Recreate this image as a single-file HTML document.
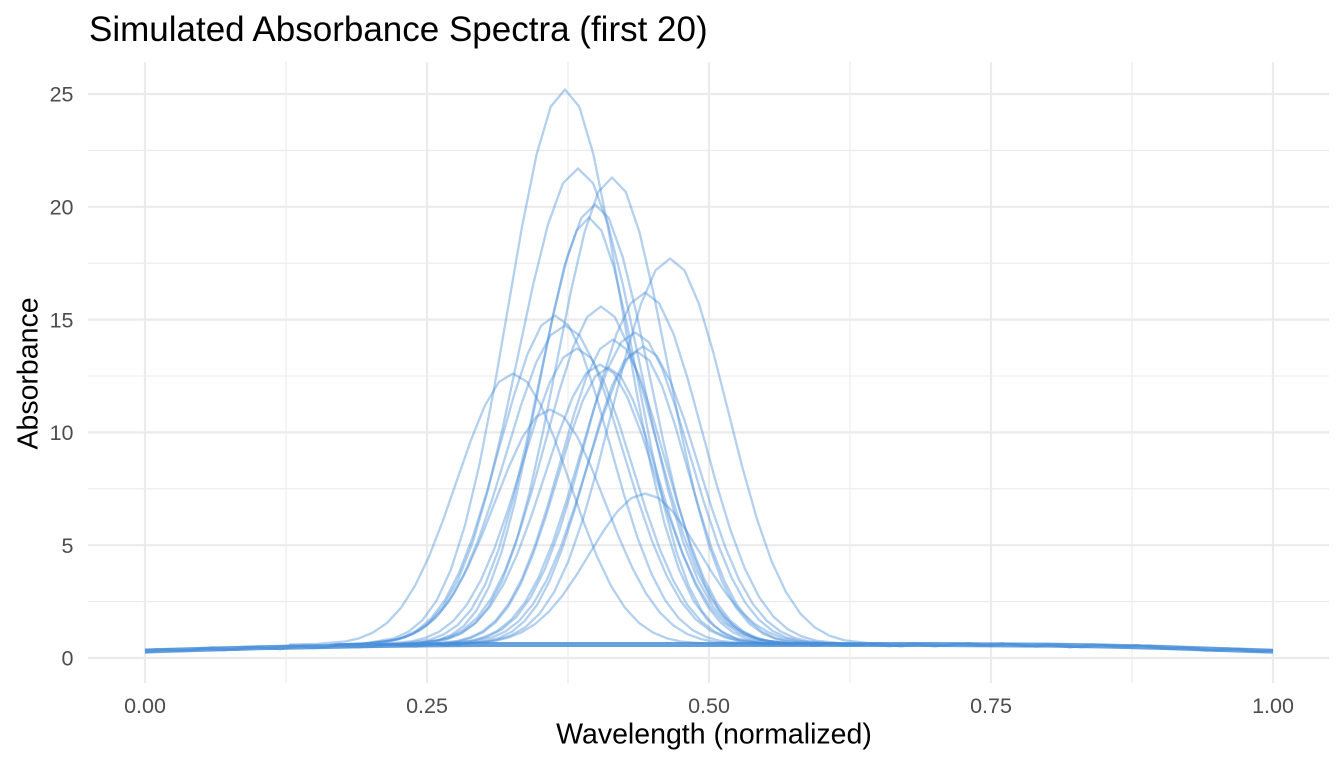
<!DOCTYPE html>
<html>
<head>
<meta charset="utf-8">
<style>
  html,body{margin:0;padding:0;background:#fff;}
  svg{display:block;}
  text{font-family:"Liberation Sans",Arial,Helvetica,sans-serif;}
  .maj{stroke:#ebebeb;stroke-width:2.2;fill:none;}
  .min{stroke:#ebebeb;stroke-width:1.1;fill:none;}
  .tk{font-size:21.5px;fill:#4d4d4d;}
  .c{fill:none;stroke:#4a90d9;stroke-opacity:0.42;stroke-width:2.3;stroke-linejoin:round;vector-effect:non-scaling-stroke;}
  .j{fill:none;stroke:#4a90d9;stroke-opacity:0.6;stroke-width:2.2;stroke-linejoin:round;}
</style>
</head>
<body>
<svg width="1344" height="768" viewBox="0 0 1344 768" xmlns="http://www.w3.org/2000/svg">
  <rect width="1344" height="768" fill="#fff"/>
  <!-- minor grid -->
  <g class="min">
    <line x1="286" y1="62" x2="286" y2="683"/>
    <line x1="568" y1="62" x2="568" y2="683"/>
    <line x1="850" y1="62" x2="850" y2="683"/>
    <line x1="1132" y1="62" x2="1132" y2="683"/>
    <line x1="88" y1="601.6" x2="1329" y2="601.6"/>
    <line x1="88" y1="488.8" x2="1329" y2="488.8"/>
    <line x1="88" y1="376" x2="1329" y2="376"/>
    <line x1="88" y1="263.2" x2="1329" y2="263.2"/>
    <line x1="88" y1="150.4" x2="1329" y2="150.4"/>
  </g>
  <!-- major grid -->
  <g class="maj">
    <line x1="145" y1="62" x2="145" y2="683"/>
    <line x1="427" y1="62" x2="427" y2="683"/>
    <line x1="709" y1="62" x2="709" y2="683"/>
    <line x1="991" y1="62" x2="991" y2="683"/>
    <line x1="1273" y1="62" x2="1273" y2="683"/>
    <line x1="88" y1="658" x2="1329" y2="658"/>
    <line x1="88" y1="545.2" x2="1329" y2="545.2"/>
    <line x1="88" y1="432.4" x2="1329" y2="432.4"/>
    <line x1="88" y1="319.6" x2="1329" y2="319.6"/>
    <line x1="88" y1="206.8" x2="1329" y2="206.8"/>
    <line x1="88" y1="94" x2="1329" y2="94"/>
  </g>

  <!-- baseline band -->
  <path d="M145,651 L201.4,649.4 L257.8,647.8 L314.2,646.7 L370.6,645.6 L427,644.9 L483.4,644.5 L934.6,644.5 L991,644.9 L1047.4,645.1 L1103.8,646 L1160.2,647.4 L1216.6,649.4 L1273,651.2" fill="none" stroke="#4a90d9" stroke-opacity="0.85" stroke-width="5" stroke-linejoin="round"/>
  <path class="j" d="M145,652.8 L167.6,649.2 L190.1,650.5 L212.7,647.3 L235.2,649.8 L257.8,647.2 L280.4,649.3 L302.9,645.5 L325.5,646.9 L348,644.3 L370.6,646.8 L393.2,644.4 L415.7,646.6 L438.3,643.3 L460.8,645.3"/>
  <path class="j" d="M821.8,642.7 L844.4,645.7 L866.9,644.1 L889.5,646.3 L912,643.5 L934.6,646.4 L957.2,643.5 L979.7,645.7 L1002.3,643.2 L1024.8,646.4 L1047.4,644.5 L1070,647.4 L1092.5,644.4 L1115.1,646.7 L1137.6,645.1 L1160.2,648.6 L1182.8,647.3 L1205.3,650.6 L1227.9,648.5 L1250.4,651.2 L1273,650.2"/>
  <path class="j" d="M145,650.5 L156.3,649.2 L178.8,651 L201.4,648.7 L224,650.3 L246.5,646.9 L269.1,648.1 L291.6,645.3 L314.2,648 L336.8,645.8 L359.3,647.3 L381.9,644.4 L404.4,645.9 L427,643.3 L449.6,645.7"/>
  <path class="j" d="M810.5,645.9 L833.1,643 L855.7,645.2 L878.2,643.6 L900.8,646.4 L923.3,644.1 L945.9,645.8 L968.5,643.1 L991,645.8 L1013.6,643.7 L1036.1,646.6 L1058.7,644.5 L1081.3,647.3 L1103.8,644.9 L1126.4,646.9 L1148.9,645.5 L1171.5,648.8 L1194.1,648 L1216.6,650.8 L1239.2,648.9 L1261.7,651.6 L1273,650.3"/>

  <!-- gaussian peaks -->
  <g>
    <path class="c" transform="translate(565,644.5) scale(57,-555)" d="M-4,0 L-3.5,0.0022 L-3,0.0111 L-2.75,0.0228 L-2.5,0.0439 L-2.25,0.0796 L-2,0.1353 L-1.75,0.2163 L-1.5,0.3247 L-1.25,0.4578 L-1,0.6065 L-0.75,0.7548 L-0.5,0.8825 L-0.25,0.9692 L0,1 L0.25,0.9692 L0.5,0.8825 L0.75,0.7548 L1,0.6065 L1.25,0.4578 L1.5,0.3247 L1.75,0.2163 L2,0.1353 L2.25,0.0796 L2.5,0.0439 L2.75,0.0228 L3,0.0111 L3.5,0.0022 L4,0"/>
    <path class="c" transform="translate(578,644.5) scale(60,-476)" d="M-4,0 L-3.5,0.0022 L-3,0.0111 L-2.75,0.0228 L-2.5,0.0439 L-2.25,0.0796 L-2,0.1353 L-1.75,0.2163 L-1.5,0.3247 L-1.25,0.4578 L-1,0.6065 L-0.75,0.7548 L-0.5,0.8825 L-0.25,0.9692 L0,1 L0.25,0.9692 L0.5,0.8825 L0.75,0.7548 L1,0.6065 L1.25,0.4578 L1.5,0.3247 L1.75,0.2163 L2,0.1353 L2.25,0.0796 L2.5,0.0439 L2.75,0.0228 L3,0.0111 L3.5,0.0022 L4,0"/>
    <path class="c" transform="translate(612,644.5) scale(55,-467)" d="M-4,0 L-3.5,0.0022 L-3,0.0111 L-2.75,0.0228 L-2.5,0.0439 L-2.25,0.0796 L-2,0.1353 L-1.75,0.2163 L-1.5,0.3247 L-1.25,0.4578 L-1,0.6065 L-0.75,0.7548 L-0.5,0.8825 L-0.25,0.9692 L0,1 L0.25,0.9692 L0.5,0.8825 L0.75,0.7548 L1,0.6065 L1.25,0.4578 L1.5,0.3247 L1.75,0.2163 L2,0.1353 L2.25,0.0796 L2.5,0.0439 L2.75,0.0228 L3,0.0111 L3.5,0.0022 L4,0"/>
    <path class="c" transform="translate(595,644.5) scale(55,-440)" d="M-4,0 L-3.5,0.0022 L-3,0.0111 L-2.75,0.0228 L-2.5,0.0439 L-2.25,0.0796 L-2,0.1353 L-1.75,0.2163 L-1.5,0.3247 L-1.25,0.4578 L-1,0.6065 L-0.75,0.7548 L-0.5,0.8825 L-0.25,0.9692 L0,1 L0.25,0.9692 L0.5,0.8825 L0.75,0.7548 L1,0.6065 L1.25,0.4578 L1.5,0.3247 L1.75,0.2163 L2,0.1353 L2.25,0.0796 L2.5,0.0439 L2.75,0.0228 L3,0.0111 L3.5,0.0022 L4,0"/>
    <path class="c" transform="translate(589,644.5) scale(50,-427)" d="M-4,0 L-3.5,0.0022 L-3,0.0111 L-2.75,0.0228 L-2.5,0.0439 L-2.25,0.0796 L-2,0.1353 L-1.75,0.2163 L-1.5,0.3247 L-1.25,0.4578 L-1,0.6065 L-0.75,0.7548 L-0.5,0.8825 L-0.25,0.9692 L0,1 L0.25,0.9692 L0.5,0.8825 L0.75,0.7548 L1,0.6065 L1.25,0.4578 L1.5,0.3247 L1.75,0.2163 L2,0.1353 L2.25,0.0796 L2.5,0.0439 L2.75,0.0228 L3,0.0111 L3.5,0.0022 L4,0"/>
    <path class="c" transform="translate(670,644.5) scale(58,-386)" d="M-4,0 L-3.5,0.0022 L-3,0.0111 L-2.75,0.0228 L-2.5,0.0439 L-2.25,0.0796 L-2,0.1353 L-1.75,0.2163 L-1.5,0.3247 L-1.25,0.4578 L-1,0.6065 L-0.75,0.7548 L-0.5,0.8825 L-0.25,0.9692 L0,1 L0.25,0.9692 L0.5,0.8825 L0.75,0.7548 L1,0.6065 L1.25,0.4578 L1.5,0.3247 L1.75,0.2163 L2,0.1353 L2.25,0.0796 L2.5,0.0439 L2.75,0.0228 L3,0.0111 L3.5,0.0022 L4,0"/>
    <path class="c" transform="translate(645,644.5) scale(57,-352)" d="M-4,0 L-3.5,0.0022 L-3,0.0111 L-2.75,0.0228 L-2.5,0.0439 L-2.25,0.0796 L-2,0.1353 L-1.75,0.2163 L-1.5,0.3247 L-1.25,0.4578 L-1,0.6065 L-0.75,0.7548 L-0.5,0.8825 L-0.25,0.9692 L0,1 L0.25,0.9692 L0.5,0.8825 L0.75,0.7548 L1,0.6065 L1.25,0.4578 L1.5,0.3247 L1.75,0.2163 L2,0.1353 L2.25,0.0796 L2.5,0.0439 L2.75,0.0228 L3,0.0111 L3.5,0.0022 L4,0"/>
    <path class="c" transform="translate(601,644.5) scale(55,-338)" d="M-4,0 L-3.5,0.0022 L-3,0.0111 L-2.75,0.0228 L-2.5,0.0439 L-2.25,0.0796 L-2,0.1353 L-1.75,0.2163 L-1.5,0.3247 L-1.25,0.4578 L-1,0.6065 L-0.75,0.7548 L-0.5,0.8825 L-0.25,0.9692 L0,1 L0.25,0.9692 L0.5,0.8825 L0.75,0.7548 L1,0.6065 L1.25,0.4578 L1.5,0.3247 L1.75,0.2163 L2,0.1353 L2.25,0.0796 L2.5,0.0439 L2.75,0.0228 L3,0.0111 L3.5,0.0022 L4,0"/>
    <path class="c" transform="translate(555,644.5) scale(55,-329)" d="M-4,0 L-3.5,0.0022 L-3,0.0111 L-2.75,0.0228 L-2.5,0.0439 L-2.25,0.0796 L-2,0.1353 L-1.75,0.2163 L-1.5,0.3247 L-1.25,0.4578 L-1,0.6065 L-0.75,0.7548 L-0.5,0.8825 L-0.25,0.9692 L0,1 L0.25,0.9692 L0.5,0.8825 L0.75,0.7548 L1,0.6065 L1.25,0.4578 L1.5,0.3247 L1.75,0.2163 L2,0.1353 L2.25,0.0796 L2.5,0.0439 L2.75,0.0228 L3,0.0111 L3.5,0.0022 L4,0"/>
    <path class="c" transform="translate(565,644.5) scale(58,-319)" d="M-4,0 L-3.5,0.0022 L-3,0.0111 L-2.75,0.0228 L-2.5,0.0439 L-2.25,0.0796 L-2,0.1353 L-1.75,0.2163 L-1.5,0.3247 L-1.25,0.4578 L-1,0.6065 L-0.75,0.7548 L-0.5,0.8825 L-0.25,0.9692 L0,1 L0.25,0.9692 L0.5,0.8825 L0.75,0.7548 L1,0.6065 L1.25,0.4578 L1.5,0.3247 L1.75,0.2163 L2,0.1353 L2.25,0.0796 L2.5,0.0439 L2.75,0.0228 L3,0.0111 L3.5,0.0022 L4,0"/>
    <path class="c" transform="translate(635,644.5) scale(55,-312)" d="M-4,0 L-3.5,0.0022 L-3,0.0111 L-2.75,0.0228 L-2.5,0.0439 L-2.25,0.0796 L-2,0.1353 L-1.75,0.2163 L-1.5,0.3247 L-1.25,0.4578 L-1,0.6065 L-0.75,0.7548 L-0.5,0.8825 L-0.25,0.9692 L0,1 L0.25,0.9692 L0.5,0.8825 L0.75,0.7548 L1,0.6065 L1.25,0.4578 L1.5,0.3247 L1.75,0.2163 L2,0.1353 L2.25,0.0796 L2.5,0.0439 L2.75,0.0228 L3,0.0111 L3.5,0.0022 L4,0"/>
    <path class="c" transform="translate(577,644.5) scale(55,-296)" d="M-4,0 L-3.5,0.0022 L-3,0.0111 L-2.75,0.0228 L-2.5,0.0439 L-2.25,0.0796 L-2,0.1353 L-1.75,0.2163 L-1.5,0.3247 L-1.25,0.4578 L-1,0.6065 L-0.75,0.7548 L-0.5,0.8825 L-0.25,0.9692 L0,1 L0.25,0.9692 L0.5,0.8825 L0.75,0.7548 L1,0.6065 L1.25,0.4578 L1.5,0.3247 L1.75,0.2163 L2,0.1353 L2.25,0.0796 L2.5,0.0439 L2.75,0.0228 L3,0.0111 L3.5,0.0022 L4,0"/>
    <path class="c" transform="translate(613,644.5) scale(52,-305)" d="M-4,0 L-3.5,0.0022 L-3,0.0111 L-2.75,0.0228 L-2.5,0.0439 L-2.25,0.0796 L-2,0.1353 L-1.75,0.2163 L-1.5,0.3247 L-1.25,0.4578 L-1,0.6065 L-0.75,0.7548 L-0.5,0.8825 L-0.25,0.9692 L0,1 L0.25,0.9692 L0.5,0.8825 L0.75,0.7548 L1,0.6065 L1.25,0.4578 L1.5,0.3247 L1.75,0.2163 L2,0.1353 L2.25,0.0796 L2.5,0.0439 L2.75,0.0228 L3,0.0111 L3.5,0.0022 L4,0"/>
    <path class="c" transform="translate(643,644.5) scale(55,-298)" d="M-4,0 L-3.5,0.0022 L-3,0.0111 L-2.75,0.0228 L-2.5,0.0439 L-2.25,0.0796 L-2,0.1353 L-1.75,0.2163 L-1.5,0.3247 L-1.25,0.4578 L-1,0.6065 L-0.75,0.7548 L-0.5,0.8825 L-0.25,0.9692 L0,1 L0.25,0.9692 L0.5,0.8825 L0.75,0.7548 L1,0.6065 L1.25,0.4578 L1.5,0.3247 L1.75,0.2163 L2,0.1353 L2.25,0.0796 L2.5,0.0439 L2.75,0.0228 L3,0.0111 L3.5,0.0022 L4,0"/>
    <path class="c" transform="translate(637,644.5) scale(50,-293)" d="M-4,0 L-3.5,0.0022 L-3,0.0111 L-2.75,0.0228 L-2.5,0.0439 L-2.25,0.0796 L-2,0.1353 L-1.75,0.2163 L-1.5,0.3247 L-1.25,0.4578 L-1,0.6065 L-0.75,0.7548 L-0.5,0.8825 L-0.25,0.9692 L0,1 L0.25,0.9692 L0.5,0.8825 L0.75,0.7548 L1,0.6065 L1.25,0.4578 L1.5,0.3247 L1.75,0.2163 L2,0.1353 L2.25,0.0796 L2.5,0.0439 L2.75,0.0228 L3,0.0111 L3.5,0.0022 L4,0"/>
    <path class="c" transform="translate(600,644.5) scale(55,-280)" d="M-4,0 L-3.5,0.0022 L-3,0.0111 L-2.75,0.0228 L-2.5,0.0439 L-2.25,0.0796 L-2,0.1353 L-1.75,0.2163 L-1.5,0.3247 L-1.25,0.4578 L-1,0.6065 L-0.75,0.7548 L-0.5,0.8825 L-0.25,0.9692 L0,1 L0.25,0.9692 L0.5,0.8825 L0.75,0.7548 L1,0.6065 L1.25,0.4578 L1.5,0.3247 L1.75,0.2163 L2,0.1353 L2.25,0.0796 L2.5,0.0439 L2.75,0.0228 L3,0.0111 L3.5,0.0022 L4,0"/>
    <path class="c" transform="translate(608,644.5) scale(50,-277)" d="M-4,0 L-3.5,0.0022 L-3,0.0111 L-2.75,0.0228 L-2.5,0.0439 L-2.25,0.0796 L-2,0.1353 L-1.75,0.2163 L-1.5,0.3247 L-1.25,0.4578 L-1,0.6065 L-0.75,0.7548 L-0.5,0.8825 L-0.25,0.9692 L0,1 L0.25,0.9692 L0.5,0.8825 L0.75,0.7548 L1,0.6065 L1.25,0.4578 L1.5,0.3247 L1.75,0.2163 L2,0.1353 L2.25,0.0796 L2.5,0.0439 L2.75,0.0228 L3,0.0111 L3.5,0.0022 L4,0"/>
    <path class="c" transform="translate(513,644.5) scale(56,-271)" d="M-4,0 L-3.5,0.0022 L-3,0.0111 L-2.75,0.0228 L-2.5,0.0439 L-2.25,0.0796 L-2,0.1353 L-1.75,0.2163 L-1.5,0.3247 L-1.25,0.4578 L-1,0.6065 L-0.75,0.7548 L-0.5,0.8825 L-0.25,0.9692 L0,1 L0.25,0.9692 L0.5,0.8825 L0.75,0.7548 L1,0.6065 L1.25,0.4578 L1.5,0.3247 L1.75,0.2163 L2,0.1353 L2.25,0.0796 L2.5,0.0439 L2.75,0.0228 L3,0.0111 L3.5,0.0022 L4,0"/>
    <path class="c" transform="translate(550,644.5) scale(55,-235)" d="M-4,0 L-3.5,0.0022 L-3,0.0111 L-2.75,0.0228 L-2.5,0.0439 L-2.25,0.0796 L-2,0.1353 L-1.75,0.2163 L-1.5,0.3247 L-1.25,0.4578 L-1,0.6065 L-0.75,0.7548 L-0.5,0.8825 L-0.25,0.9692 L0,1 L0.25,0.9692 L0.5,0.8825 L0.75,0.7548 L1,0.6065 L1.25,0.4578 L1.5,0.3247 L1.75,0.2163 L2,0.1353 L2.25,0.0796 L2.5,0.0439 L2.75,0.0228 L3,0.0111 L3.5,0.0022 L4,0"/>
    <path class="c" transform="translate(645,644.5) scale(55,-151)" d="M-4,0 L-3.5,0.0022 L-3,0.0111 L-2.75,0.0228 L-2.5,0.0439 L-2.25,0.0796 L-2,0.1353 L-1.75,0.2163 L-1.5,0.3247 L-1.25,0.4578 L-1,0.6065 L-0.75,0.7548 L-0.5,0.8825 L-0.25,0.9692 L0,1 L0.25,0.9692 L0.5,0.8825 L0.75,0.7548 L1,0.6065 L1.25,0.4578 L1.5,0.3247 L1.75,0.2163 L2,0.1353 L2.25,0.0796 L2.5,0.0439 L2.75,0.0228 L3,0.0111 L3.5,0.0022 L4,0"/>
  </g>

  <!-- y tick labels -->
  <g class="tk" text-anchor="end">
    <text x="73.5" y="665.7">0</text>
    <text x="73.5" y="552.9">5</text>
    <text x="73.5" y="440.1">10</text>
    <text x="73.5" y="327.3">15</text>
    <text x="73.5" y="214.5">20</text>
    <text x="73.5" y="101.7">25</text>
  </g>
  <!-- x tick labels -->
  <g class="tk" text-anchor="middle">
    <text x="145" y="713">0.00</text>
    <text x="427" y="713">0.25</text>
    <text x="709" y="713">0.50</text>
    <text x="991" y="713">0.75</text>
    <text x="1273" y="713">1.00</text>
  </g>

  <!-- axis titles -->
  <text x="714" y="743.5" text-anchor="middle" font-size="28.5" fill="#000">Wavelength (normalized)</text>
  <text transform="translate(37.3,373.5) rotate(-90)" text-anchor="middle" font-size="28.5" fill="#000">Absorbance</text>

  <!-- title -->
  <text x="89" y="41" font-size="35" fill="#000">Simulated Absorbance Spectra (first 20)</text>
</svg>
</body>
</html>
